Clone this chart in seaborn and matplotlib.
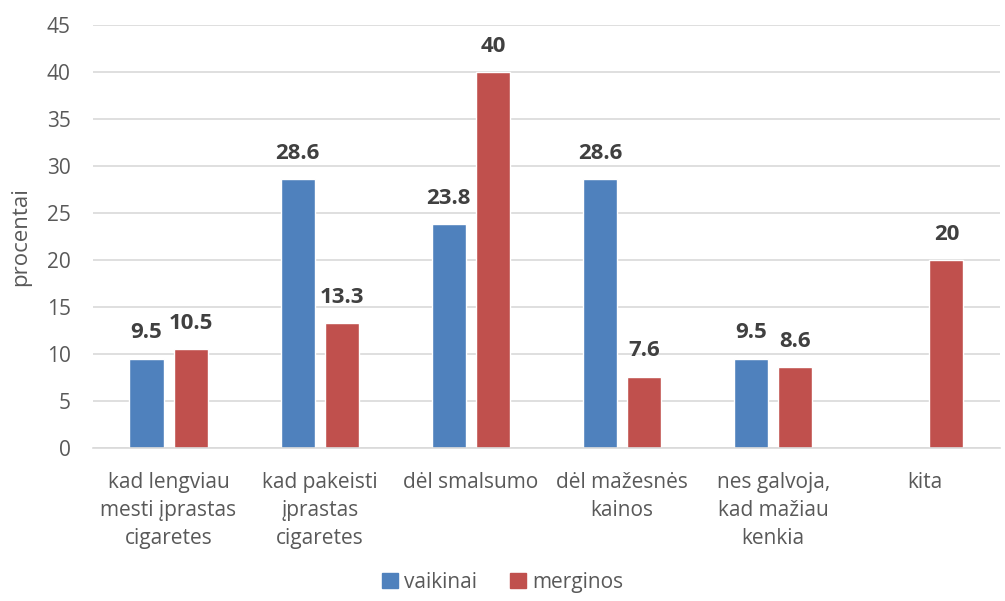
import numpy as np
import pandas as pd
import matplotlib
matplotlib.use("Agg")
import matplotlib.pyplot as plt
import seaborn as sns

categories = ["kad lengviau\nmesti įprastas\ncigaretes",
              "kad pakeisti\nįprastas\ncigaretes",
              "dėl smalsumo",
              "dėl mažesnės\nkainos",
              "nes galvoja,\nkad mažiau\nkenkia",
              "kita"]
vaikinai = [9.5, 28.6, 23.8, 28.6, 9.5, np.nan]
merginos = [10.5, 13.3, 40, 7.6, 8.6, 20]
series_names = ["vaikinai", "merginos"]
colors = ["#4F81BD", "#C0504D"]
yticks = [0, 5, 10, 15, 20, 25, 30, 35, 40, 45]

sns.set_theme(style="white")
plt.rcParams['font.family'] = ['Open Sans', 'DejaVu Sans']

df = pd.DataFrame({
    "cat": categories * 2,
    "val": vaikinai + merginos,
    "series": [series_names[0]] * len(categories) + [series_names[1]] * len(categories),
})

fig = plt.figure(figsize=(10.05, 6.01), dpi=100)
ax = fig.add_axes([0.0925, 0.2546, 0.9025, 0.7034])

sns.barplot(data=df, x="cat", y="val", hue="series", order=categories,
            hue_order=series_names, palette=colors, width=0.583, gap=0.227,
            saturation=1, ax=ax, legend=True, errorbar=None)

ax.set_ylim(0, 45)
ax.set_yticks(yticks)
ax.set_xlim(-0.5, len(categories) - 0.5)
ax.yaxis.grid(True, color="#D9D9D9", linewidth=1.2)
ax.set_axisbelow(True)
for s in ["top", "right", "left"]:
    ax.spines[s].set_visible(False)
ax.spines["bottom"].set_color("#D9D9D9")
ax.spines["bottom"].set_linewidth(1.2)
ax.tick_params(axis="both", length=0, colors="#595959", labelsize=15)
ax.tick_params(axis="y", pad=16)
ax.tick_params(axis="x", pad=17)
for lab in ax.get_xticklabels():
    lab.set_linespacing(1.45)
ax.set_xlabel("")
ax.set_ylabel("procentai", fontsize=16, color="#595959")
ax.yaxis.set_label_coords(-0.068, 0.5)

for cont in ax.containers:
    labels = []
    for p in cont.patches:
        h = p.get_height()
        labels.append("" if (h is None or np.isnan(h)) else f"{h:g}")
    ax.bar_label(cont, labels=labels, padding=11, fontsize=16,
                 fontweight="bold", color="#404040")

ax.get_legend().remove()
handles = [plt.Rectangle((0, 0), 1, 1, color=c) for c in colors]
fig.legend(handles, series_names, loc="lower center", ncol=2, frameon=False,
           bbox_to_anchor=(0.5, -0.018), fontsize=15, handlelength=0.75,
           handleheight=0.75, handletextpad=0.3, columnspacing=1.6,
           labelcolor="#595959")

fig.savefig("out.png", dpi=100)
